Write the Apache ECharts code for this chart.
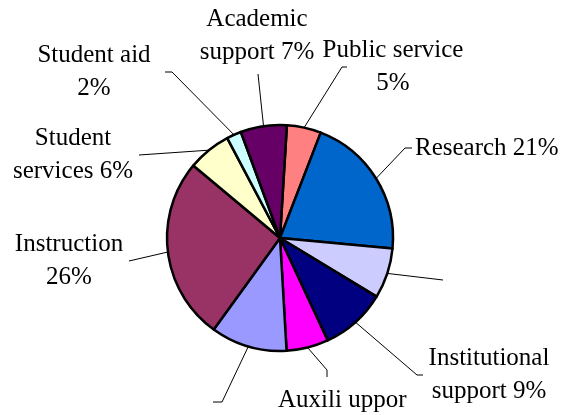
<!DOCTYPE html>
<html>
<head>
<meta charset="utf-8">
<script src="https://cdn.jsdelivr.net/npm/echarts@6/dist/echarts.min.js"></script>
<style>
  html, body { margin: 0; padding: 0; background: #fff; }
  #chart { width: 564px; height: 415px; }
</style>
</head>
<body>
<div id="chart"></div>
<script>
// slices clockwise from the top
const categories = ['Public service', 'Research', 'Unlabeled 1', 'Institutional support', 'Auxili uppor',
  'Unlabeled 2', 'Instruction', 'Student services', 'Student aid', 'Academic support']
const values = [4.9, 20.6, 7.2, 9.4, 6.0, 10.9, 26.1, 6.2, 2.1, 6.6]
const labelTexts = ['Public service\n5%', 'Research 21%', ' ', 'Institutional\nsupport 9%', 'Auxili uppor',
  ' ', 'Instruction\n26%', 'Student\nservices 6%', 'Student aid\n2%', 'Academic\nsupport 7%']
const colors = ['#FF8080', '#0066CC', '#CCCCFF', '#000080', '#FF00FF',
  '#9999FF', '#993366', '#FFFFCC', '#CCFFFF', '#660066']

// where each label sits and the bend of its leader line
const spots = [
  { x: 393, y: 67, align: 'center', bend: [[342, 67], [347, 67]] },
  { x: 415, y: 148, align: 'left', bend: [[405, 148], [412, 148]] },
  { x: 443, y: 280, align: 'left', bend: [[443, 280], [443, 280]] },
  { x: 489, y: 375, align: 'center', bend: [[417, 375], [423, 375]] },
  { x: 278, y: 400, align: 'left', bend: [[327, 370], [327, 377]] },
  { x: 213, y: 402, align: 'right', bend: [[222, 402], [213, 402]] },
  { x: 69, y: 261, align: 'center', bend: [[129, 261], [129, 261]] },
  { x: 73, y: 155, align: 'center', bend: [[139, 155], [139, 155]] },
  { x: 94, y: 72, align: 'center', bend: [[172, 72], [165, 72]] },
  { x: 257, y: 36, align: 'center', bend: [[258, 74], [258, 74]] }
]

const serif = 'Times New Roman, Liberation Serif, DejaVu Serif, serif'

const chart = echarts.init(document.getElementById('chart'))
chart.setOption({
  animation: false,
  color: colors,
  textStyle: { fontFamily: serif },
  series: [{
    type: 'pie',
    center: [280, 238],
    radius: 113,
    startAngle: 86.5,
    clockwise: true,
    avoidLabelOverlap: false,
    itemStyle: { borderColor: '#000', borderWidth: 2.5 },
    emphasis: { disabled: true },
    label: {
      show: true,
      position: 'outside',
      formatter: p => '{t|' + labelTexts[p.dataIndex].split('\n').join('}\n{t|') + '}',
      rich: {
        t: { color: '#000', fontFamily: serif, fontSize: 25, lineHeight: 33 }
      }
    },
    labelLine: {
      show: true,
      lineStyle: { color: '#000', width: 1 }
    },
    labelLayout: function (params) {
      const s = spots[params.dataIndex]
      const start = params.labelLinePoints ? params.labelLinePoints[0] : s.bend[0]
      return {
        x: s.x,
        y: s.y,
        align: s.align,
        verticalAlign: 'middle',
        labelLinePoints: [start, s.bend[0], s.bend[1]]
      }
    },
    data: categories.map((name, i) => ({ name: name, value: values[i] }))
  }]
})
</script>
</body>
</html>
